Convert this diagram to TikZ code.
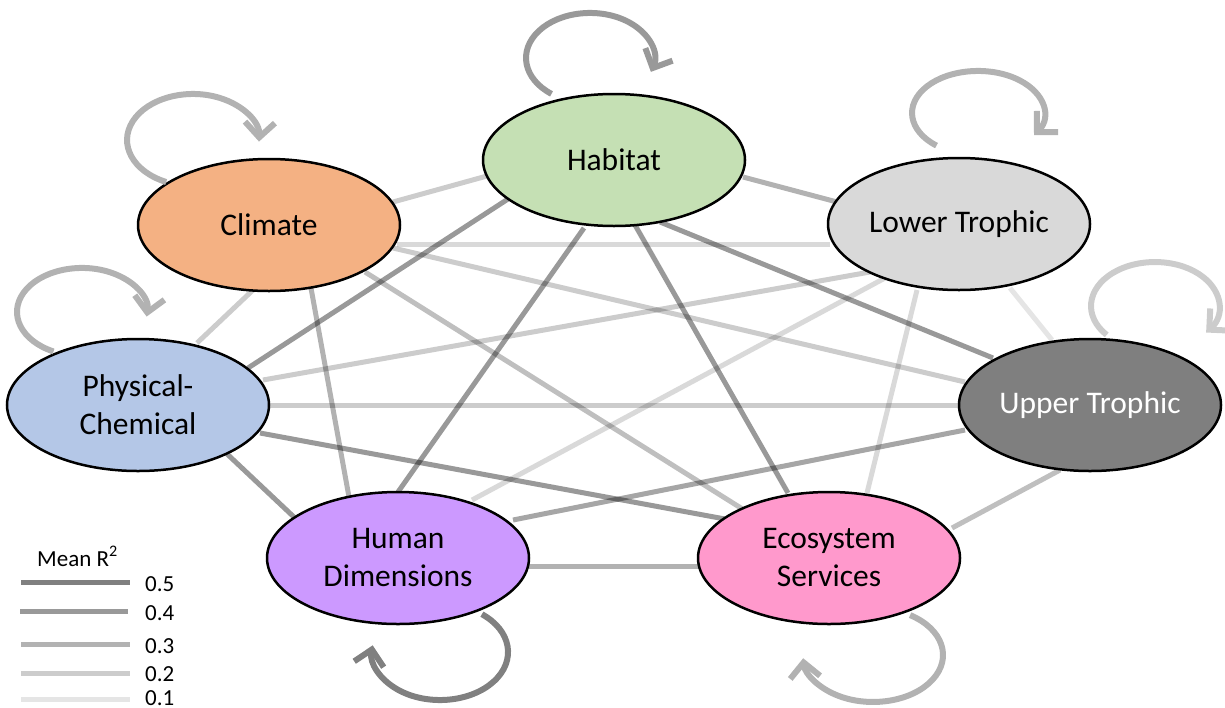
\documentclass[tikz,border=0pt]{standalone}
\usepackage{fontspec}
\setmainfont{Carlito}
\usetikzlibrary{shapes.geometric,arrows.meta,calc}
\pgfdeclarelayer{background}
\pgfsetlayers{background,main}
\definecolor{habitatc}{HTML}{C5E0B4}
\definecolor{climatec}{HTML}{F4B183}
\definecolor{lowerc}{HTML}{D9D9D9}
\definecolor{upperc}{HTML}{7F7F7F}
\definecolor{physc}{HTML}{B4C7E7}
\definecolor{humanc}{HTML}{CC99FF}
\definecolor{ecoc}{HTML}{FF99CC}
\begin{document}
\begin{tikzpicture}[x=1pt,y=-1pt,
  bubble/.style={ellipse,draw=black,line width=2.5pt,minimum width=262pt,minimum height=132pt,inner sep=0pt,align=center,font=\fontsize{31.5}{38}\selectfont},
  link/.style={draw=black,line width=5pt,draw opacity=#1},
  selfloop/.style={draw=black!#1,line width=6pt,-{Straight Barb[length=15pt,width=30pt]}},
  legline/.style={line width=5pt,draw=black!#1},
  legtext/.style={anchor=base west,font=\fontsize{23}{27}\selectfont,inner sep=0pt}
]
\useasboundingbox (0,0) rectangle (1225,707);

\node[bubble,fill=habitatc] (H) at (614,160) {Habitat};
\node[bubble,fill=climatec] (C) at (269,225) {Climate};
\node[bubble,fill=lowerc] (LT) at (959,224) {Lower Trophic};
\node[bubble,fill=physc] (PC) at (138,405) {Physical-\\Chemical};
\node[bubble,fill=upperc,text=white] (UT) at (1090,405) {Upper Trophic};
\node[bubble,fill=humanc] (HD) at (398,558) {Human\\Dimensions};
\node[bubble,fill=ecoc] (ES) at (829,558) {Ecosystem\\Services};

\begin{pgfonlayer}{background}
\draw[link=0.2]  ($(C)+(124,-23)$) -- ($(H)+(-127,16)$);
\draw[link=0.3]  ($(H)+(129,17)$) -- ($(LT)+(-122,-22)$);
\draw[link=0.15] ($(C)+(128,19)$) -- ($(LT)+(-129,20)$);
\draw[link=0.2]  ($(C)+(124,23)$) -- ($(UT)+(-125,-23)$);
\draw[link=0.25] ($(C)+(96,47)$) -- ($(ES)+(-69,-38)$);
\draw[link=0.3]  ($(C)+(42,63)$) -- ($(HD)+(-49,-61)$);
\draw[link=0.2]  ($(C)+(-16,65)$) -- ($(PC)+(59,-62)$);
\draw[link=0.4]  ($(H)+(-106,39)$) -- ($(PC)+(110,-37)$);
\draw[link=0.4]  ($(H)+(-30,68)$) -- ($(HD)+(0,-66)$);
\draw[link=0.4]  ($(H)+(21,65)$) -- ($(ES)+(-41,-65)$);
\draw[link=0.4]  ($(H)+(46,62)$) -- ($(UT)+(-97,-47)$);
\draw[link=0.2]  ($(LT)+(-89,48)$) -- ($(PC)+(125,-25)$);
\draw[link=0.15] ($(LT)+(-74,54)$) -- ($(HD)+(74,-58)$);
\draw[link=0.15] ($(LT)+(-42,66)$) -- ($(ES)+(38,-65)$);
\draw[link=0.1]  ($(LT)+(51,64)$) -- ($(UT)+(-38,-65)$);
\draw[link=0.2]  ($(PC)+(130,0)$) -- ($(UT)+(-131,0)$);
\draw[link=0.4]  ($(PC)+(122,28)$) -- ($(ES)+(-104,-39)$);
\draw[link=0.4]  ($(PC)+(87,47)$) -- ($(HD)+(-103,-40)$);
\draw[link=0.3]  ($(HD)+(131,8)$) -- ($(ES)+(-129,8)$);
\draw[link=0.35] ($(HD)+(115,-38)$) -- ($(UT)+(-125,25)$);
\draw[link=0.25] ($(ES)+(123,-30)$) -- ($(UT)+(-30,65)$);
\end{pgfonlayer}

\draw[selfloop=40] ($(H)+(-62.5,-66.1)$) arc[start angle=127,end angle=378,x radius=64,y radius=45];
\draw[selfloop=30] ($(C)+(-102.8,-43)$) arc[start angle=114,end angle=362,x radius=66,y radius=46];
\draw[selfloop=30] ($(LT)+(-22.5,-78.4)$) arc[start angle=129,end angle=392,x radius=66,y radius=42];
\draw[selfloop=20] ($(UT)+(16.7,-70.1)$) arc[start angle=139,end angle=397,x radius=64,y radius=44];
\draw[selfloop=30] ($(PC)+(-84.5,-53.5)$) arc[start angle=116,end angle=366,x radius=65,y radius=44];
\draw[selfloop=50] ($(HD)+(83.9,56.2)$) arc[start angle=-52,end angle=188,x radius=68,y radius=48];
\draw[selfloop=30] ($(ES)+(81.1,57.1)$) arc[start angle=-58,end angle=176,x radius=70,y radius=47];

\node[legtext] (legtitle) at (37,566) {Mean R\textsuperscript{2}};
\draw[legline=50] (21,582) -- (130,582);
\draw[legline=40] (20,611) -- (128,611);
\draw[legline=30] (21,644) -- (130,644);
\draw[legline=20] (21,673) -- (130,673);
\draw[legline=10] (21,699) -- (130,699);
\node[legtext] (l5) at (145,591) {0.5};
\node[legtext] (l4) at (145,620) {0.4};
\node[legtext] (l3) at (145,653) {0.3};
\node[legtext] (l2) at (145,681) {0.2};
\node[legtext] (l1) at (145,705) {0.1};
\end{tikzpicture}
\end{document}
